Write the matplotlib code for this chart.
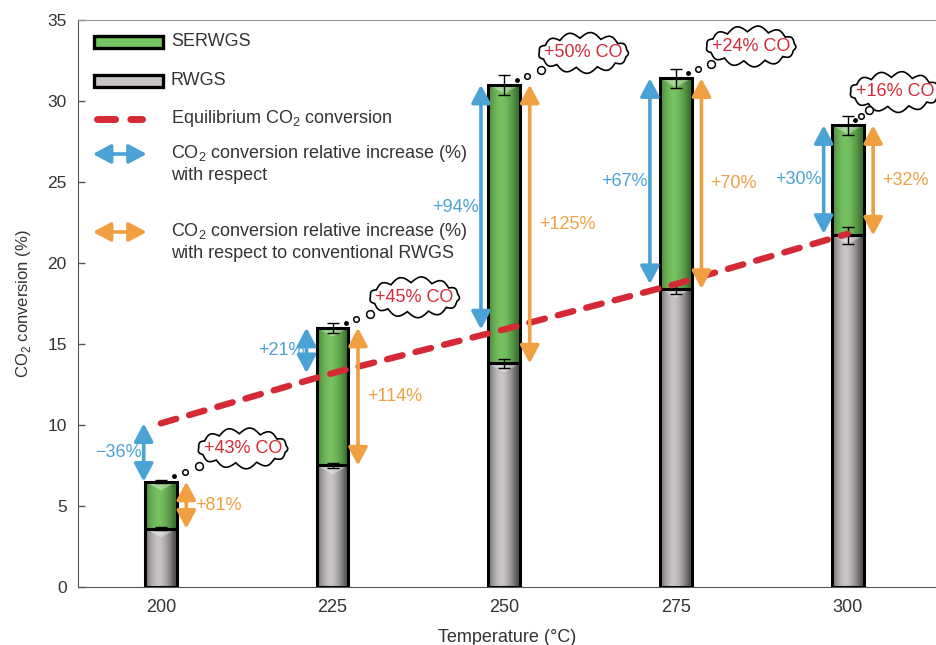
import numpy as np
import matplotlib
matplotlib.use('Agg')
import matplotlib.pyplot as plt
from matplotlib.patches import FancyArrowPatch, Rectangle, Polygon
from matplotlib.path import Path
from matplotlib.transforms import offset_copy

plt.rcParams['font.family'] = ['Liberation Sans', 'DejaVu Sans']
plt.rcParams['mathtext.fontset'] = 'custom'
plt.rcParams['mathtext.rm'] = 'Liberation Sans'

temps = [200, 225, 250, 275, 300]
rwgs = [3.6, 7.5, 13.8, 18.4, 21.7]
rwgs_err = [0.1, 0.15, 0.3, 0.3, 0.5]
serwgs = [6.5, 16.0, 31.0, 31.4, 28.5]
serwgs_err = [0.1, 0.3, 0.6, 0.6, 0.6]
equilibrium = [10.1, 13.2, 15.9, 18.7, 21.8]
rel_equil = ['\u221236%', '+21%', '+94%', '+67%', '+30%']
rel_rwgs = ['+81%', '+114%', '+125%', '+70%', '+32%']
co_gain = ['+43% CO', '+45% CO', '+50% CO', '+24% CO', '+16% CO']

# where the arrows sit next to each bar (data units) and cloud offsets (points)
blue_dx = [-2.5, -3.8, -3.4, -3.8, -3.5]
orange_dx = [3.7, 3.7, 3.7, 3.7, 3.7]
cloud_off = [(59, 24), (59, 22), (57, 23), (54, 23), (34, 24)]

BLUE = '#4aa3d4'
ORANGE = '#f0a040'
RED = '#d42a35'
TXT = '#333333'

fig = plt.figure(figsize=(9.37, 6.45), dpi=100)
ax = fig.add_axes([0.083, 0.09, 0.917, 0.879])

bar_w = 4.6


def shaded_bar(x, bottom, top, dark, light):
    rect = Rectangle((x - bar_w / 2, bottom), bar_w, top - bottom,
                     facecolor='none', edgecolor='black', linewidth=2.2, zorder=3)
    ax.add_patch(rect)
    u = np.linspace(-1, 1, 64)
    w = np.clip(1 - np.abs(u + 0.15) ** 1.6, 0, 1)
    c0 = np.array(matplotlib.colors.to_rgb(dark))
    c1 = np.array(matplotlib.colors.to_rgb(light))
    img = c0[None, :] + (c1 - c0)[None, :] * w[:, None]
    im = ax.imshow(img[None, :, :], extent=(x - bar_w / 2, x + bar_w / 2, bottom, top),
                   aspect='auto', zorder=2, interpolation='bilinear')
    im.set_clip_path(rect)
    # light bevel at the top of the segment
    depth = min(0.55, (top - bottom) * 0.3)
    bevel = Polygon([(x - bar_w / 2, top), (x + bar_w / 2, top), (x, top - depth)],
                    closed=True, facecolor='white', edgecolor='none', alpha=0.35, zorder=2.5)
    ax.add_patch(bevel)
    bevel.set_clip_path(rect)


for t, r, s in zip(temps, rwgs, serwgs):
    shaded_bar(t, 0, r, '#575457', '#c8c4c8')
    shaded_bar(t, r, s, '#3b7530', '#78c262')

ax.errorbar(temps, rwgs, yerr=rwgs_err, fmt='none', ecolor='black',
            elinewidth=1.0, capsize=4.5, capthick=1.0, zorder=4)
ax.errorbar(temps, serwgs, yerr=serwgs_err, fmt='none', ecolor='black',
            elinewidth=1.0, capsize=4.5, capthick=1.0, zorder=4)

ax.plot(temps, equilibrium, color=RED, lw=4.6, dashes=(2.5, 2.1),
        dash_capstyle='round', zorder=5)


def double_arrow(x, y0, y1, color):
    arr = FancyArrowPatch((x, y0), (x, y1),
                          arrowstyle='<|-|>,head_length=0.6,head_width=0.32',
                          mutation_scale=18, color=color, lw=2.6,
                          shrinkA=0, shrinkB=0, zorder=6)
    ax.add_patch(arr)


for i, t in enumerate(temps):
    xb = t + blue_dx[i]
    double_arrow(xb, equilibrium[i], serwgs[i], BLUE)
    ax.annotate(rel_equil[i], (xb, (equilibrium[i] + serwgs[i]) / 2),
                xytext=(-1.5, 0), textcoords='offset points',
                ha='right', va='center', color=BLUE, fontsize=13, zorder=7)
    xo = t + orange_dx[i]
    double_arrow(xo, rwgs[i], serwgs[i], ORANGE)
    ax.annotate(rel_rwgs[i], (xo, (rwgs[i] + serwgs[i]) / 2),
                xytext=(6.5, 0), textcoords='offset points',
                ha='left', va='center', color=ORANGE, fontsize=13, zorder=7)


def cloud(x0, y0, width, height, mutation_size):
    pad = 0.34 * mutation_size
    cx, cy = x0 + width / 2, y0 + height / 2
    a, b = width / 2 + pad * 0.8, height / 2 + pad
    n = 13
    t = np.linspace(0, 2 * np.pi, n + 1) + 0.2
    ring = np.column_stack([cx + a * np.cos(t), cy + b * np.sin(t)])
    s = np.linspace(0, 1, 18)
    bump = 0.3 * np.sin(np.pi * s)
    pts = []
    for p, q in zip(ring[:-1], ring[1:]):
        d = q - p
        nrm = np.array([d[1], -d[0]])
        seg = p + np.outer(s, d) + np.outer(bump, nrm)
        pts.extend(seg[:-1])
    pts.append(pts[0])
    codes = [Path.MOVETO] + [Path.LINETO] * (len(pts) - 2) + [Path.CLOSEPOLY]
    return Path(np.array(pts), codes)


for i, t in enumerate(temps):
    dx, dy = cloud_off[i]
    ax.annotate(co_gain[i], (t, serwgs[i]), xytext=(dx, dy), textcoords='offset points',
                ha='center', va='center', color=RED, fontsize=13, zorder=8,
                bbox=dict(boxstyle=cloud, facecolor='white', edgecolor='black', lw=1.2))
    for frac, ms, mfc in [(0.16, 2.4, 'black'), (0.29, 4.0, 'white'), (0.46, 5.6, 'white')]:
        tr = offset_copy(ax.transData, fig=fig, x=dx * frac, y=dy * frac, units='points')
        ax.plot([t], [serwgs[i]], 'o', ms=ms, mfc=mfc, mec='black', mew=1.1,
                transform=tr, zorder=8)


# legend drawn in axes coordinates
def fx(px):
    return (px - 78) / 859


def fy(py):
    return (587 - py) / 567


for py, dark, light, label in [(42, '#3b7530', '#78c262', 'SERWGS'),
                               (81, '#575457', '#c8c4c8', 'RWGS')]:
    ax.add_patch(Rectangle((fx(94), fy(py + 6)), fx(163) - fx(94), fy(py - 6) - fy(py + 6),
                           transform=ax.transAxes, facecolor=light, edgecolor='black',
                           lw=2.4, zorder=6))
    ax.text(fx(171), fy(py), label, transform=ax.transAxes, ha='left', va='center',
            fontsize=13, color=TXT)

ax.plot([fx(97), fx(142)], [fy(119), fy(119)], transform=ax.transAxes, color=RED,
        lw=5, dashes=(2.6, 2.2), dash_capstyle='round')
ax.text(fx(171), fy(119), 'Equilibrium CO$_2$ conversion', transform=ax.transAxes,
        ha='left', va='center', fontsize=13, color=TXT)

for py, color, label in [(154, BLUE, 'CO$_2$ conversion relative increase (%)\nwith respect'),
                         (232, ORANGE, 'CO$_2$ conversion relative increase (%)\n'
                                       'with respect to conventional RWGS')]:
    ax.add_patch(FancyArrowPatch((fx(93), fy(py)), (fx(147), fy(py)),
                                 arrowstyle='<|-|>,head_length=0.6,head_width=0.32',
                                 mutation_scale=18, color=color, lw=2.6,
                                 shrinkA=0, shrinkB=0, transform=ax.transAxes))
    ax.text(fx(171), fy(py - 11), label, transform=ax.transAxes, ha='left', va='top',
            fontsize=13, color=TXT, linespacing=1.2)

ax.set_xlim(187.9, 313)
ax.set_ylim(0, 35)
ax.set_xticks(temps)
ax.set_yticks(np.arange(0, 36, 5))
ax.tick_params(axis='x', length=0, pad=9, labelsize=13, labelcolor=TXT)
ax.tick_params(axis='y', direction='in', length=5, width=1, pad=8,
               labelsize=12.5, labelcolor=TXT, color='#555555')
ax.set_xlabel('Temperature (\u00b0C)', fontsize=13, color=TXT, labelpad=9)
ax.set_ylabel('CO$_2$ conversion (%)', fontsize=12, color=TXT, labelpad=10)
ax.spines['right'].set_visible(False)
ax.spines['top'].set_color('#999999')
ax.spines['left'].set_color('#555555')
ax.spines['bottom'].set_color('#555555')

fig.savefig('out.png', dpi=100)
